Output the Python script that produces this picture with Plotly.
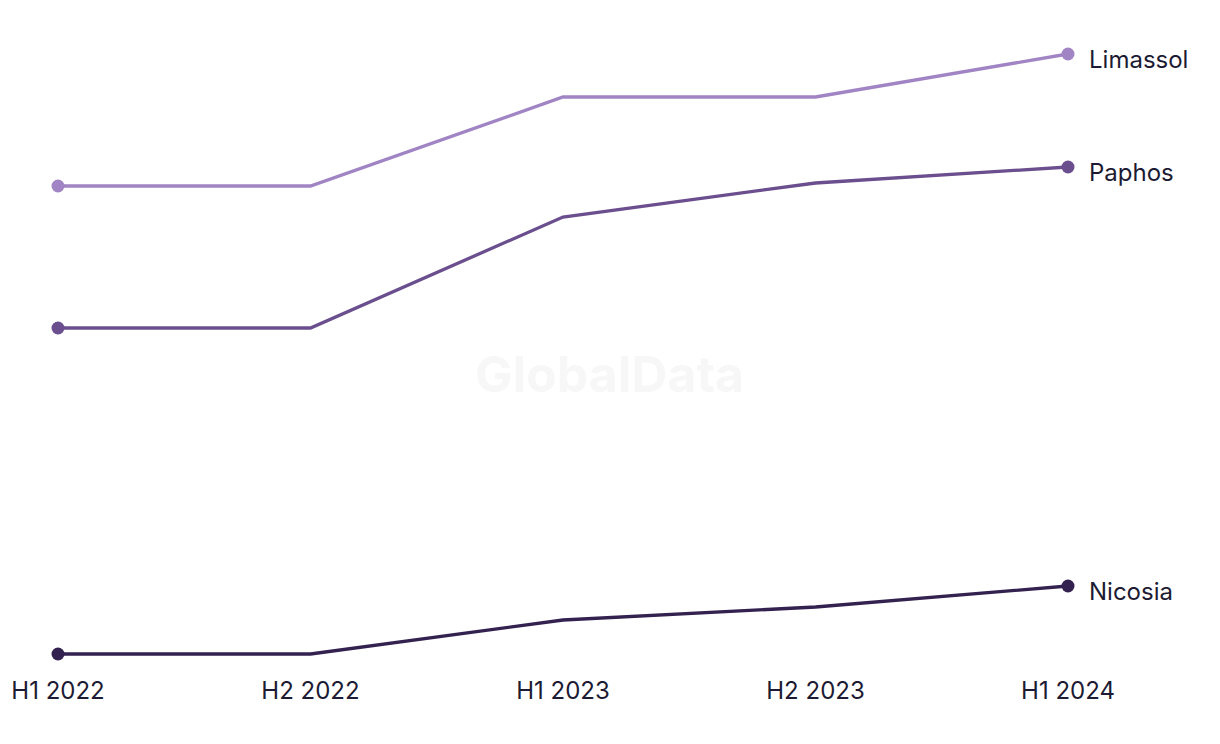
import plotly.graph_objects as go

periods = ["H1 2022", "H2 2022", "H1 2023", "H2 2023", "H1 2024"]
limassol = [217.0, 217.0, 239.25, 239.25, 250.0]
paphos = [181.5, 181.5, 209.25, 217.75, 221.75]
nicosia = [100.0, 100.0, 108.5, 111.75, 117.0]

series = [
    ("Limassol", limassol, "#A084C4"),
    ("Paphos", paphos, "#6A4E8E"),
    ("Nicosia", nicosia, "#33224F"),
]

FONT = "Inter, Roboto, sans-serif"
TEXT = "#1C1B33"

xs = list(range(len(periods)))
fig = go.Figure()
for name, vals, color in series:
    fig.add_trace(go.Scatter(
        x=xs, y=vals, mode="lines", name=name,
        line=dict(color=color, width=3.3), cliponaxis=False,
        hoverinfo="skip", showlegend=False,
    ))
    fig.add_trace(go.Scatter(
        x=[xs[0], xs[-1]], y=[vals[0], vals[-1]], mode="markers",
        marker=dict(color=color, size=13), cliponaxis=False,
        showlegend=False, hoverinfo="skip",
    ))
    fig.add_annotation(
        x=xs[-1], y=vals[-1], text=name, showarrow=False,
        xanchor="left", yanchor="middle", xshift=19, yshift=-5,
        font=dict(family=FONT, size=24, color=TEXT),
    )

fig.add_annotation(
    x=0.5465, y=0.468, xref="paper", yref="paper",
    xanchor="center", yanchor="middle",
    text="<b>GlobalData</b>", showarrow=False,
    font=dict(family=FONT, size=50, color="#F7F7F7"),
)

fig.update_layout(
    width=1220, height=744,
    margin=dict(l=50, r=160, t=34, b=86, pad=0, autoexpand=False),
    paper_bgcolor="white", plot_bgcolor="white",
    xaxis=dict(
        range=[0, 4], tickvals=xs, ticktext=periods, showgrid=False,
        zeroline=False, showline=False, ticks="outside", ticklen=3,
        tickcolor="rgba(0,0,0,0)", automargin=False,
        tickfont=dict(family=FONT, size=24, color=TEXT),
    ),
    yaxis=dict(range=[97, 253], visible=False, showgrid=False, automargin=False),
)
fig.write_html("out.html")
